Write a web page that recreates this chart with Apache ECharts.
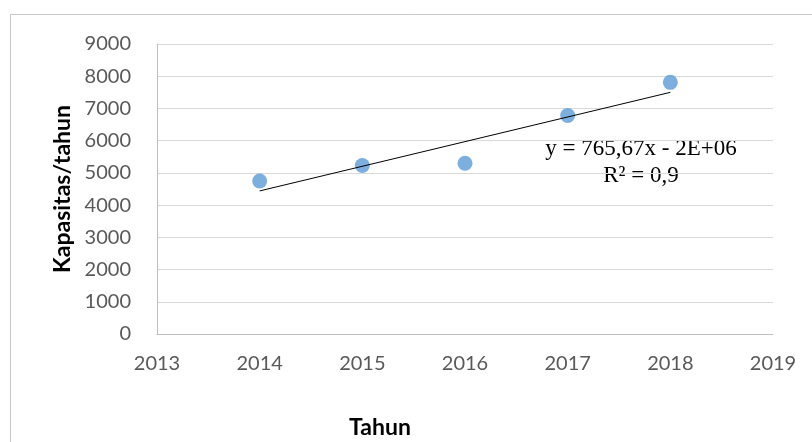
<!DOCTYPE html>
<html>
<head>
<meta charset="utf-8">
<script src="https://cdn.jsdelivr.net/npm/echarts@6/dist/echarts.min.js"></script>
<style>
  html, body { margin: 0; padding: 0; background: #fff; }
  #chart { width: 812px; height: 442px; }
</style>
</head>
<body>
<div id="chart"></div>
<script>
// data
var years = [2014, 2015, 2016, 2017, 2018];
var kapasitas = [4750, 5230, 5300, 6780, 7810];
// trendline end points (linear, from the chart)
var trendYears = [2014, 2018];
var trendValues = [4440, 7500];
var eqLines = ['y = 765,67x - 2E+06', 'R² = 0,9'];

var points = years.map(function (y, i) { return [y, kapasitas[i]]; });
var trend = trendYears.map(function (y, i) { return [y, trendValues[i]]; });

var myChart = echarts.init(document.getElementById('chart'));
var option = {
  animation: false,
  backgroundColor: '#fff',
  grid: { left: 157, right: 39, top: 44, bottom: 108 },
  xAxis: {
    type: 'value',
    min: 2013, max: 2019, interval: 1,
    axisLine: { show: true, lineStyle: { color: '#bfbfbf', width: 1 } },
    axisTick: { show: false },
    splitLine: { show: false },
    axisLabel: {
      fontFamily: 'Lato', fontSize: 20, color: '#595959', margin: 20,
      formatter: function (v) { return String(v); }
    }
  },
  yAxis: {
    type: 'value',
    min: 0, max: 9000, interval: 1000,
    name: 'Kapasitas/tahun',
    nameLocation: 'middle',
    nameGap: 77,
    nameRotate: 90,
    nameTextStyle: { fontFamily: 'Lato', fontWeight: 'bold', fontSize: 23, color: '#000' },
    axisLine: { show: true, lineStyle: { color: '#bfbfbf', width: 1 } },
    axisTick: { show: false },
    splitLine: { show: true, lineStyle: { color: '#d9d9d9', width: 1 } },
    axisLabel: {
      fontFamily: 'Lato', fontSize: 20, color: '#595959', margin: 26,
      formatter: function (v) { return String(v); }
    }
  },
  graphic: [
    {
      type: 'rect', silent: true,
      shape: { x: 10.5, y: 14.5, width: 900, height: 600 },
      style: { fill: 'none', stroke: '#c8c8c8', lineWidth: 1 }
    },
    {
      type: 'text', silent: true,
      style: {
        x: 641, y: 135,
        text: eqLines.join('\n'),
        fontFamily: 'Liberation Serif', fontSize: 23, lineHeight: 27,
        fill: '#000', align: 'center', verticalAlign: 'top'
      }
    },
    {
      type: 'text', silent: true,
      style: {
        x: 380, y: 428,
        text: 'Tahun',
        fontFamily: 'Lato', fontWeight: 'bold', fontSize: 23,
        fill: '#000', align: 'center', verticalAlign: 'middle'
      }
    }
  ],
  series: [
    {
      type: 'line',
      data: trend,
      symbol: 'none',
      lineStyle: { color: '#000', width: 1 },
      z: 3
    },
    {
      type: 'scatter',
      data: points,
      symbolSize: 15,
      itemStyle: { color: '#5b9bd5' },
      z: 2
    }
  ]
};
myChart.setOption(option);
</script>
</body>
</html>
